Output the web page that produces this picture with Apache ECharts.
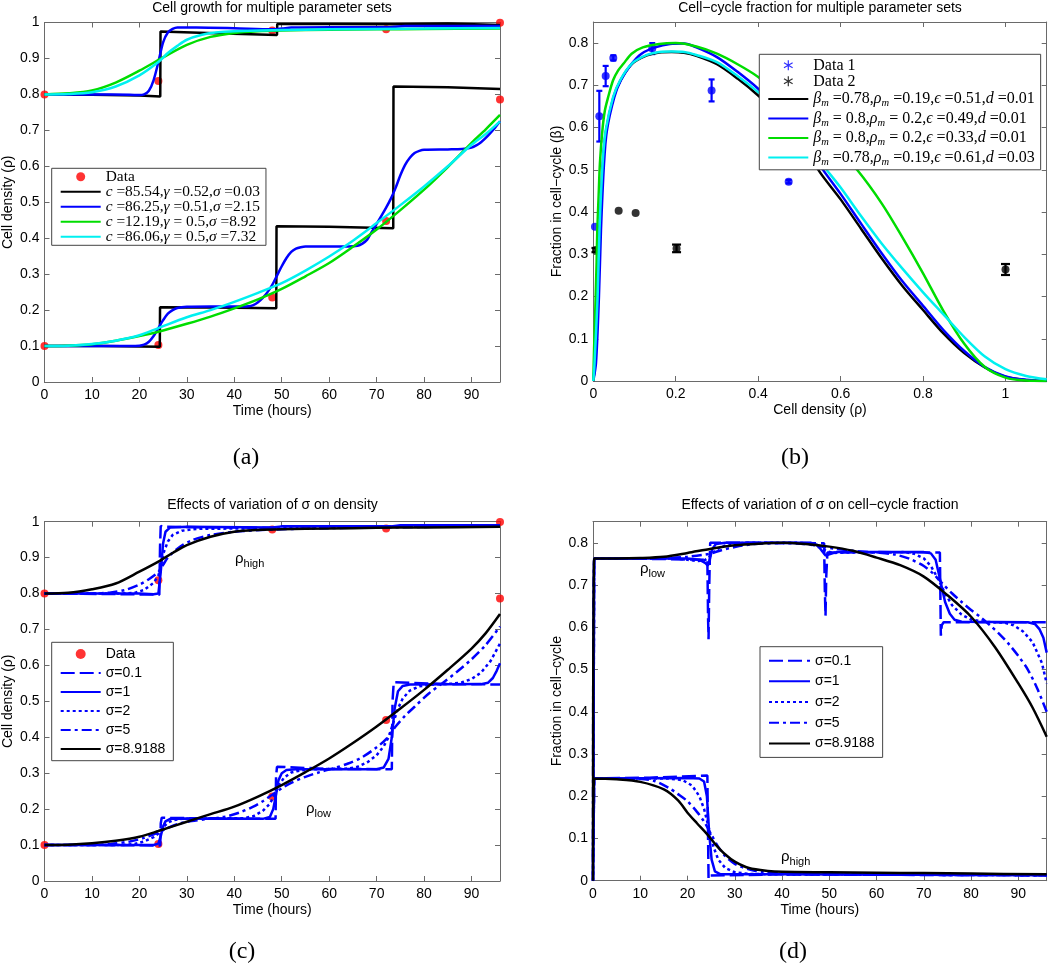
<!DOCTYPE html>
<html><head><meta charset="utf-8">
<script src="https://cdn.jsdelivr.net/npm/echarts@6/dist/echarts.min.js"></script>
<style>html,body{margin:0;padding:0;background:#fff}#c{width:1050px;height:969px}</style>
</head><body><div id="c"></div>
<script>
// ---------------- Panel (a) data ----------------
const aDataPts = [[0,0.8],[24,0.837],[48,0.978],[72,0.981],[96,0.999],[0,0.1],[24,0.103],[48,0.235],[72,0.448],[96,0.786]];
const aBlackHigh = [[0,0.8],[10,0.799],[20,0.797],[24.4,0.794],[24.45,0.975],[36,0.97],[49.0,0.965],[49.05,0.996],[60,0.996],[73.6,0.995],[73.65,0.999],[85,0.997],[96,0.993]];
const aBlackLow = [[0,0.1],[12,0.1],[24.3,0.098],[24.35,0.208],[36,0.207],[48.85,0.205],[48.9,0.433],[60,0.432],[73.5,0.428],[73.55,0.822],[85,0.82],[96,0.815]];
const aBlueHigh = [[0,0.8],[10,0.8],[18,0.799],[20,0.798],[21,0.8],[22,0.81],[23,0.84],[24,0.89],[25,0.945],[26,0.972],[27,0.982],[28,0.986],[32,0.986],[40,0.984],[48,0.981],[50,0.983],[52,0.986],[60,0.987],[72,0.987],[76,0.99],[96,0.99]];
const aBlueLow = [[0,0.1],[10,0.1],[18,0.1],[20,0.101],[21,0.104],[22,0.112],[23,0.128],[24,0.15],[25,0.172],[26,0.19],[27,0.2],[28,0.206],[30,0.209],[35,0.21],[40,0.21],[43,0.211],[44,0.214],[45,0.222],[46,0.234],[47,0.25],[48,0.27],[49,0.296],[50,0.322],[51,0.345],[52,0.362],[53,0.371],[54,0.375],[55,0.377],[60,0.377],[64,0.377],[66,0.379],[67,0.385],[68,0.396],[69,0.418],[70,0.44],[71,0.462],[72,0.485],[73,0.51],[74,0.54],[75,0.575],[76,0.604],[77,0.624],[78,0.637],[79,0.643],[80,0.646],[85,0.647],[88,0.648],[90,0.652],[91,0.658],[92,0.667],[93,0.679],[94,0.693],[95,0.708],[96,0.725]];
const aGreenHigh = [[0,0.8],[5,0.803],[10,0.811],[15,0.833],[20,0.866],[25,0.903],[30,0.938],[35,0.96],[40,0.971],[45,0.976],[50,0.978],[60,0.98],[70,0.981],[80,0.982],[96,0.983]];
const aGreenLow = [[0,0.1],[5,0.101],[10,0.105],[15,0.115],[20,0.128],[24,0.14],[30,0.162],[35,0.182],[40,0.205],[45,0.23],[50,0.259],[55,0.294],[60,0.331],[65,0.376],[70,0.424],[75,0.478],[80,0.535],[85,0.598],[90,0.665],[93,0.703],[96,0.743]];
const aCyanHigh = [[0,0.8],[5,0.801],[10,0.806],[15,0.822],[20,0.853],[24,0.89],[26,0.915],[28,0.935],[30,0.952],[33,0.965],[36,0.972],[40,0.976],[50,0.979],[60,0.981],[80,0.983],[96,0.985]];
const aCyanLow = [[0,0.1],[5,0.101],[10,0.106],[15,0.115],[20,0.13],[24,0.15],[30,0.18],[35,0.2],[40,0.223],[45,0.248],[50,0.275],[55,0.31],[60,0.349],[65,0.393],[70,0.442],[75,0.492],[80,0.544],[85,0.6],[90,0.66],[93,0.69],[96,0.725]];
const aNames = ['c =85.54,γ =0.52,σ =0.03','c =86.25,γ =0.51,σ =2.15','c =12.19,γ = 0.5,σ =8.92','c =86.06,γ = 0.5,σ =7.32'];

// ---------------- Panel (b) data ----------------
const bData1 = [[0.004,0.365],[0.0146,0.627],[0.030,0.722],[0.0485,0.765],[0.143,0.787],[0.287,0.688],[0.474,0.472]];
const bErr1 = [0, 0.06, 0.024, 0.006, 0.013, 0.026, 0.004];
const bData2 = [[0.0065,0.31],[0.0615,0.403],[0.1027,0.398],[0.202,0.314],[1.0,0.264]];
const bErr2 = [0.005, 0, 0, 0.009, 0.013];
const bBlack = [[0,0],[0.004,0.042],[0.011,0.2],[0.0155,0.357],[0.023,0.515],[0.031,0.593],[0.049,0.672],[0.066,0.712],[0.094,0.751],[0.13,0.771],[0.16,0.778],[0.19,0.779],[0.22,0.777],[0.25,0.77],[0.3,0.75],[0.35,0.716],[0.4,0.676],[0.45,0.63],[0.5,0.573],[0.55,0.494],[0.6,0.43],[0.65,0.36],[0.7,0.29],[0.75,0.225],[0.8,0.168],[0.85,0.112],[0.9,0.066],[0.95,0.032],[1.0,0.01],[1.05,0.002],[1.1,0]];
const bBlue = [[0,0],[0.0065,0.042],[0.0137,0.2],[0.0186,0.357],[0.026,0.515],[0.033,0.593],[0.051,0.672],[0.067,0.712],[0.093,0.751],[0.117,0.775],[0.15,0.79],[0.186,0.798],[0.22,0.799],[0.25,0.79],[0.3,0.767],[0.35,0.732],[0.4,0.692],[0.45,0.645],[0.5,0.585],[0.55,0.51],[0.6,0.443],[0.65,0.372],[0.7,0.302],[0.75,0.236],[0.8,0.178],[0.85,0.12],[0.9,0.071],[0.95,0.033],[1.0,0.011],[1.05,0.003],[1.1,0]];
const bGreen = [[0,0],[0.002,0.08],[0.004,0.14],[0.0057,0.2],[0.008,0.28],[0.0097,0.357],[0.013,0.44],[0.016,0.515],[0.022,0.593],[0.028,0.64],[0.036,0.672],[0.048,0.712],[0.06,0.735],[0.073,0.751],[0.093,0.775],[0.12,0.79],[0.16,0.798],[0.2,0.8],[0.25,0.792],[0.3,0.775],[0.35,0.75],[0.4,0.72],[0.45,0.68],[0.5,0.635],[0.55,0.59],[0.6,0.54],[0.64,0.5],[0.7,0.42],[0.75,0.34],[0.8,0.255],[0.85,0.165],[0.9,0.088],[0.95,0.033],[1.0,0.008],[1.05,0.001],[1.1,0]];
const bCyan = [[0,0],[0.003,0.042],[0.0105,0.2],[0.015,0.357],[0.0226,0.515],[0.03,0.593],[0.048,0.672],[0.065,0.712],[0.093,0.751],[0.13,0.772],[0.16,0.779],[0.19,0.78],[0.22,0.779],[0.25,0.772],[0.3,0.755],[0.35,0.722],[0.4,0.684],[0.45,0.64],[0.5,0.59],[0.55,0.52],[0.6,0.458],[0.65,0.39],[0.7,0.325],[0.75,0.266],[0.8,0.21],[0.85,0.157],[0.9,0.104],[0.95,0.058],[1.0,0.028],[1.05,0.012],[1.1,0.004]];
const bNames = ['βm =0.78,ρm =0.19,ϵ =0.51,d =0.01','βm = 0.8,ρm = 0.2,ϵ =0.49,d =0.01','βm = 0.8,ρm = 0.2,ϵ =0.33,d =0.01','βm =0.78,ρm =0.19,ϵ =0.61,d =0.03'];

// ---------------- Panel (c) data ----------------
const cDataPts = [[0,0.8],[24,0.837],[48,0.978],[72,0.981],[96,0.999],[0,0.1],[24,0.103],[48,0.235],[72,0.448],[96,0.786]];
const c01High = [[0,0.8],[12,0.799],[24.2,0.797],[24.35,0.93],[24.5,0.988],[25,0.986],[36,0.984],[48.8,0.983],[49,0.988],[50,0.987],[60,0.987],[73.4,0.986],[73.6,0.99],[85,0.99],[96,0.99]];
const c1High = [[0,0.8],[20,0.8],[23,0.798],[24,0.8],[24.5,0.86],[25,0.94],[25.5,0.972],[26.5,0.984],[30,0.986],[48,0.984],[50,0.987],[73,0.987],[75,0.99],[96,0.99]];
const c2High = [[0,0.8],[16,0.8],[19,0.802],[21,0.81],[23,0.83],[24,0.85],[24.5,0.875],[25,0.91],[26,0.945],[27,0.963],[29,0.975],[32,0.98],[48,0.982],[52,0.985],[96,0.99]];
const c5High = [[0,0.8],[10,0.8],[14,0.803],[17,0.81],[20,0.825],[22,0.84],[24,0.86],[25,0.88],[26,0.9],[28,0.925],[31,0.948],[35,0.963],[40,0.972],[48,0.978],[60,0.982],[96,0.988]];
const c89High = [[0,0.8],[5,0.802],[10,0.812],[15,0.828],[20,0.861],[24,0.889],[27,0.913],[30,0.935],[35,0.958],[40,0.972],[45,0.977],[50,0.979],[60,0.981],[70,0.983],[80,0.984],[96,0.986]];
const c01Low = [[0,0.1],[12,0.1],[24.4,0.099],[24.5,0.16],[24.7,0.176],[25,0.175],[36,0.174],[48.7,0.173],[48.8,0.29],[49,0.318],[49.3,0.314],[60,0.312],[73.2,0.311],[73.35,0.5],[73.6,0.553],[74,0.549],[85,0.548],[96,0.547]];
const c1Low = [[0,0.1],[20,0.1],[23,0.1],[24,0.104],[24.5,0.125],[25,0.152],[25.5,0.166],[26.5,0.173],[30,0.174],[46,0.173],[47.5,0.178],[48.2,0.2],[48.8,0.24],[49.3,0.28],[50,0.3],[51,0.309],[53,0.311],[70,0.311],[71.5,0.316],[72.5,0.34],[73.2,0.4],[73.8,0.48],[74.5,0.528],[75.5,0.543],[77,0.547],[92,0.548],[93.5,0.552],[94.5,0.565],[95.3,0.585],[96,0.606]];
const c2Low = [[0,0.1],[16,0.1],[19,0.103],[21,0.11],[23,0.122],[24,0.132],[25,0.15],[26,0.162],[27,0.169],[29,0.173],[32,0.174],[42,0.175],[44,0.18],[46,0.195],[47.5,0.215],[48.5,0.24],[49.5,0.268],[50.5,0.288],[52,0.302],[54,0.308],[57,0.311],[64,0.313],[66,0.318],[68,0.33],[70,0.35],[71.5,0.375],[72.5,0.4],[73.5,0.44],[74.5,0.48],[75.5,0.508],[77,0.53],[79,0.542],[82,0.547],[86,0.549],[88,0.553],[90,0.562],[92,0.58],[94,0.612],[96,0.661]];
const c5Low = [[0,0.1],[10,0.1],[14,0.103],[18,0.11],[21,0.12],[24,0.135],[26,0.148],[28,0.158],[31,0.167],[34,0.172],[38,0.179],[41,0.19],[44,0.207],[46,0.222],[48,0.24],[50,0.258],[52,0.273],[55,0.29],[58,0.303],[61,0.314],[64,0.327],[67,0.345],[70,0.372],[72,0.395],[74,0.43],[76,0.46],[78,0.485],[81,0.522],[84,0.552],[87,0.583],[90,0.617],[93,0.657],[96,0.708]];
const c89Low = [[0,0.1],[5,0.101],[10,0.105],[15,0.112],[20,0.123],[24,0.139],[30,0.165],[35,0.186],[40,0.207],[45,0.235],[50,0.267],[55,0.303],[60,0.341],[65,0.384],[70,0.43],[75,0.48],[80,0.532],[85,0.588],[90,0.647],[93,0.69],[96,0.743]];

// ---------------- Panel (d) data ----------------
const d01Low = [[0,0],[0.25,0.763],[12,0.762],[24.2,0.76],[24.35,0.62],[24.45,0.572],[24.6,0.7],[24.8,0.8],[36,0.8],[48.9,0.799],[49.05,0.69],[49.2,0.627],[49.35,0.72],[49.6,0.777],[60,0.778],[73.4,0.777],[73.5,0.68],[73.6,0.58],[73.8,0.605],[74.2,0.612],[85,0.612],[96,0.612]];
const d1Low = [[0,0],[0.25,0.763],[20,0.763],[22.5,0.76],[23.8,0.752],[24.3,0.746],[24.7,0.76],[25.2,0.785],[26,0.797],[28,0.8],[46,0.8],[47.5,0.795],[48.5,0.78],[49.2,0.77],[50,0.773],[51.5,0.778],[70,0.778],[71.5,0.775],[72.5,0.76],[73.5,0.71],[74.5,0.66],[75.5,0.632],[76.5,0.618],[78,0.613],[92,0.612],[93.5,0.608],[94.5,0.595],[95.3,0.575],[96,0.54]];
const d2Low = [[0,0],[0.25,0.763],[17,0.763],[20,0.76],[22,0.757],[23.5,0.758],[24.5,0.765],[25.5,0.778],[27,0.79],[29,0.797],[32,0.8],[44,0.8],[46,0.797],[48,0.789],[49.5,0.78],[51,0.776],[53,0.777],[66,0.778],[68,0.774],[70,0.763],[71.5,0.745],[73,0.715],[74.5,0.68],[76,0.652],[78,0.63],[80,0.618],[83,0.613],[87,0.611],[89,0.605],[91,0.59],[93,0.565],[95,0.515],[96,0.467]];
const d5Low = [[0,0],[0.25,0.763],[12,0.763],[16,0.764],[20,0.767],[23,0.771],[25,0.775],[27,0.782],[30,0.79],[34,0.797],[40,0.799],[44,0.798],[48,0.792],[51,0.786],[55,0.781],[60,0.777],[64,0.772],[67,0.762],[70,0.745],[72,0.727],[74,0.703],[76,0.68],[78,0.66],[80,0.641],[82,0.624],[84,0.605],[86,0.584],[88,0.56],[90,0.532],[92,0.5],[94,0.455],[96,0.4]];
const d89Low = [[0,0],[0.25,0.763],[5,0.763],[10,0.764],[15,0.767],[20,0.776],[25,0.786],[30,0.794],[35,0.798],[40,0.8],[45,0.797],[50,0.791],[55,0.781],[60,0.765],[65,0.747],[70,0.72],[75,0.676],[80,0.625],[85,0.554],[90,0.467],[93,0.41],[96,0.341]];
const d01High = [[0,0],[0.25,0.242],[12,0.244],[24.2,0.249],[24.35,0.1],[24.45,0.005],[24.6,0.012],[25,0.015],[40,0.015],[60,0.014],[96,0.013]];
const d1High = [[0,0],[0.25,0.242],[20,0.243],[22.5,0.242],[23.5,0.235],[24.1,0.2],[24.6,0.11],[25.1,0.05],[25.8,0.022],[27,0.015],[40,0.015],[96,0.013]];
const d2High = [[0,0],[0.25,0.242],[16,0.242],[19,0.238],[21,0.225],[22.5,0.2],[23.5,0.17],[24.5,0.125],[25.5,0.08],[26.5,0.05],[28,0.03],[30,0.02],[33,0.016],[40,0.015],[96,0.013]];
const d5High = [[0,0],[0.25,0.242],[10,0.241],[13,0.236],[16,0.22],[18,0.205],[20,0.188],[22,0.163],[23.5,0.14],[25,0.11],[26.5,0.08],[28,0.058],[30,0.04],[33,0.027],[36,0.02],[40,0.017],[50,0.015],[96,0.013]];
const d89High = [[0,0],[0.25,0.242],[5,0.24],[10,0.234],[15,0.216],[18,0.19],[20,0.161],[22,0.136],[24,0.112],[26,0.085],[28,0.062],[30,0.045],[33,0.03],[37,0.023],[40,0.021],[50,0.02],[60,0.019],[70,0.018],[80,0.017],[96,0.015]];
const sigmaNames = ['σ=0.1','σ=1','σ=2','σ=5','σ=8.9188'];

// ---------------- styles ----------------
const SANS = '"Liberation Sans", Arial, sans-serif';
const SERIF = '"Liberation Serif", "DejaVu Serif", serif';
const AX = '#6a6a6a';
const BLUE = '#0000ff', BLACK = '#000000', GREEN = '#00dd00', CYAN = '#00f0f0', RED = '#ff0000';
const DASH = {'σ=0.1':[14,5], 'σ=1':'solid', 'σ=2':[3,3], 'σ=5':[10,4,3,4], 'σ=8.9188':'solid'};
const ASTER = 'path://M-4,0L-4,0.001L-3.999,0ZM4,0L4,0.001L3.999,0ZM-0.12,-1L0.12,-1L0.12,1L-0.12,1ZM-0.926,-0.396L-0.806,-0.604L0.926,0.396L0.806,0.604ZM0.806,-0.604L0.926,-0.396L-0.806,0.604L-0.926,0.396Z';

const grids = [
  {left:44.5, top:22.5, width:455.5, height:359.5},
  {left:593.3, top:22, width:453.4, height:359},
  {left:44.5, top:521.7, width:455.5, height:359.3},
  {left:593, top:521.7, width:453.7, height:359}
];
const ranges = [
  {x:[0,96,10], y:[0,1,0.1], xn:'Time (hours)', yn:'Cell density (ρ)', xMax:false, yMax:true},
  {x:[0,1.1,0.2], y:[0,0.85,0.1], xn:'Cell density (ρ)', yn:'Fraction in cell\u2212cycle (β)', xMax:false, yMax:false},
  {x:[0,96,10], y:[0,1,0.1], xn:'Time (hours)', yn:'Cell density (ρ)', xMax:false, yMax:true},
  {x:[0,96,10], y:[0,0.85,0.1], xn:'Time (hours)', yn:'Fraction in cell\u2212cycle', xMax:false, yMax:false}
];

function mkAxis(g, r, isX, main) {
  const rr = isX ? r.x : r.y;
  const ax = {
    type:'value', gridIndex:g, min:rr[0], max:rr[1], interval:rr[2],
    position: isX ? (main ? 'bottom' : 'top') : (main ? 'left' : 'right'),
    splitLine:{show:false},
    axisLine:{show:true, onZero:false, lineStyle:{color:AX, width:1}},
    axisTick:{show:true, inside:true, length:5, lineStyle:{color:AX, width:1}},
    axisLabel:{show:main, color:'#000', fontFamily:SANS, fontSize:14, margin: isX ? 6 : 5,
      showMaxLabel: isX ? r.xMax : r.yMax, showMinLabel:true},
    silent:true
  };
  if (main) {
    ax.name = isX ? r.xn : r.yn;
    ax.nameLocation = 'middle';
    ax.nameGap = isX ? 22 : 29;
    ax.nameTextStyle = {color:'#000', fontFamily:SANS, fontSize:14};
  }
  return ax;
}
const xAxes = [], yAxes = [];
grids.forEach((gr, g) => {
  xAxes.push(mkAxis(g, ranges[g], true, true));
  xAxes.push(mkAxis(g, ranges[g], true, false));
  yAxes.push(mkAxis(g, ranges[g], false, true));
  yAxes.push(mkAxis(g, ranges[g], false, false));
});

function line(name, data, color, g, type, smooth) {
  const s = {type:'line', name, data, xAxisIndex:2*g, yAxisIndex:2*g, showSymbol:false, symbol:'none',
    lineStyle:{color, width:2.5, type: type || 'solid', cap:'butt'}, itemStyle:{color}, silent:true, animation:false, clip:true,
    connectNulls:false};
  if (smooth) { s.smooth = 0.3; }
  return s;
}
function dots(name, data, color, g) {
  return {type:'scatter', name, data, xAxisIndex:2*g, yAxisIndex:2*g, symbol:'circle', symbolSize:8,
    itemStyle:{color}, silent:true, animation:false};
}
function errBars(pts, errs, color, capW, g) {
  const d = [];
  pts.forEach((p, i) => { if (errs[i] > 0) d.push([p[0], p[1] - errs[i], p[1] + errs[i]]); });
  return {type:'custom', name:'err'+color, xAxisIndex:2*g, yAxisIndex:2*g, data:d, encode:{x:0, y:[1,2]},
    silent:true, animation:false,
    renderItem: (params, api) => {
      const x = api.value(0), a = api.coord([x, api.value(1)]), b = api.coord([x, api.value(2)]);
      const st = {stroke:color, lineWidth:2.2};
      return {type:'group', children:[
        {type:'line', shape:{x1:a[0], y1:a[1], x2:b[0], y2:b[1]}, style:st},
        {type:'line', shape:{x1:a[0]-capW, y1:a[1], x2:a[0]+capW, y2:a[1]}, style:st},
        {type:'line', shape:{x1:b[0]-capW, y1:b[1], x2:b[0]+capW, y2:b[1]}, style:st}
      ]};
    }};
}
function concatBreak(h, l) { return h.concat([[null, null]], l); }

const series = [];
// (a)
series.push(dots('Data', aDataPts, RED, 0));
series.push(line(aNames[0], concatBreak(aBlackHigh, aBlackLow), BLACK, 0));
series.push(line(aNames[1], concatBreak(aBlueHigh, aBlueLow), BLUE, 0, 'solid', true));
series.push(line(aNames[2], concatBreak(aGreenHigh, aGreenLow), GREEN, 0, 'solid', true));
series.push(line(aNames[3], concatBreak(aCyanHigh, aCyanLow), CYAN, 0, 'solid', true));
// (b)
series.push(errBars(bData1, bErr1, BLUE, 3, 1));
series.push(dots('Data 1', bData1, BLUE, 1));
series.push(errBars(bData2, bErr2, BLACK, 4.5, 1));
series.push(dots('Data 2', bData2, BLACK, 1));
series.push(line(bNames[0], bBlack, BLACK, 1, 'solid', true));
series.push(line(bNames[1], bBlue, BLUE, 1, 'solid', true));
series.push(line(bNames[2], bGreen, GREEN, 1, 'solid', true));
series.push(line(bNames[3], bCyan, CYAN, 1, 'solid', true));
// (c)
series.push(dots('Data', cDataPts, RED, 2));
const cH = [c01High, c1High, c2High, c5High, c89High], cL = [c01Low, c1Low, c2Low, c5Low, c89Low];
sigmaNames.forEach((n, i) => series.push(line(n, concatBreak(cH[i], cL[i]), i === 4 ? BLACK : BLUE, 2, DASH[n], i >= 3)));
// (d)
const dH = [d01High, d1High, d2High, d5High, d89High], dL = [d01Low, d1Low, d2Low, d5Low, d89Low];
sigmaNames.forEach((n, i) => series.push(line(n, concatBreak(dL[i], dH[i]), i === 4 ? BLACK : BLUE, 3, DASH[n], i >= 3)));

// rich formatting for serif legends
function richA(name) {
  if (name === 'Data') return '{n|Data}';
  return name.replace(/(c|γ|σ)( ?=)([^,]*)(,?)/g, (m, v, eq, num, comma) => '{i|' + v + '}{n|' + eq + num + comma + '}');
}
function richB(name) {
  if (name.startsWith('Data')) return '{d|' + name + '}';
  const parts = name.split(',');
  return parts.map((p, k) => {
    const sep = k < parts.length - 1 ? ',' : '';
    const m = p.match(/^(β|ρ|ϵ|d)(m?)(.*)$/);
    return '{g|' + m[1] + '}' + (m[2] ? '{s|m}' : '') + '{n|' + m[3] + sep + '}';
  }).join('');
}
const lineItem = n => ({name:n, itemStyle:{opacity:0}});

const legends = [
  {orient:'vertical', left:51.7, top:168.3, itemWidth:40, itemHeight:9, itemGap:0, padding:[1,6,1,8],
   borderColor:'#444', borderWidth:1, backgroundColor:'#fff', selectedMode:false,
   data:['Data'].concat(aNames.map(lineItem)), formatter:richA,
   textStyle:{color:'#000', fontFamily:SERIF, fontSize:15.4, lineHeight:13.3,
     rich:{i:{fontFamily:SERIF, fontSize:15.4, fontStyle:'italic', lineHeight:13.3, color:'#000'},
           n:{fontFamily:SERIF, fontSize:15.4, lineHeight:13.3, color:'#000'}}}},
  {orient:'vertical', left:759.3, top:54.3, itemWidth:40, itemHeight:10, itemGap:0, padding:[3,6,2.5,8],
   borderColor:'#444', borderWidth:1, backgroundColor:'#fff', selectedMode:false,
   data:[{name:'Data 1', icon:ASTER}, {name:'Data 2', icon:ASTER}].concat(bNames.map(lineItem)), formatter:richB,
   textStyle:{color:'#000', fontFamily:SERIF, fontSize:16, lineHeight:19.5,
     rich:{d:{fontFamily:SERIF, fontSize:16, lineHeight:15.7, color:'#000'},
           g:{fontFamily:SERIF, fontSize:16, fontStyle:'italic', lineHeight:19.5, color:'#000'},
           s:{fontFamily:SERIF, fontSize:10.5, fontStyle:'italic', lineHeight:10, verticalAlign:'bottom', color:'#000'},
           n:{fontFamily:SERIF, fontSize:16, lineHeight:19.5, color:'#000'}}}},
  {orient:'vertical', left:51.7, top:642.3, itemWidth:40, itemHeight:10, itemGap:0, padding:[2.2,8,2.2,8],
   borderColor:'#444', borderWidth:1, backgroundColor:'#fff', selectedMode:false,
   data:['Data'].concat(sigmaNames.map(lineItem)),
   textStyle:{color:'#000', fontFamily:SANS, fontSize:14, lineHeight:19}},
  {orient:'vertical', left:760, top:646.7, itemWidth:41, itemHeight:10, itemGap:0, padding:[3.6,8,3.6,8],
   borderColor:'#444', borderWidth:1, backgroundColor:'#fff', selectedMode:false,
   data:sigmaNames.map(lineItem),
   textStyle:{color:'#000', fontFamily:SANS, fontSize:14, lineHeight:20.7}}
];

function txt(x, y, text, font, align) {
  return {type:'text', x, y, silent:true, z:10,
    style:{text, font, fill:'#000', align: align || 'center', verticalAlign:'middle',
      textAlign: align || 'center', textVerticalAlign:'middle'}};
}
function rhoTxt(x, y, sub) {
  return {type:'text', x, y, silent:true, z:10,
    style:{text:'{r|ρ}{s|' + sub + '}', fill:'#000', align:'left', verticalAlign:'middle',
      textAlign:'left', textVerticalAlign:'middle',
      rich:{r:{fontFamily:SANS, fontSize:15, lineHeight:20, fill:'#000', color:'#000'},
            s:{fontFamily:SANS, fontSize:11, lineHeight:11, verticalAlign:'bottom', fill:'#000', color:'#000'}}}};
}
const graphics = [
  txt(272, 8, 'Cell growth for multiple parameter sets', '14px ' + SANS),
  txt(820, 8, 'Cell\u2212cycle fraction for multiple parameter sets', '14px ' + SANS),
  txt(272.5, 505, 'Effects of variation of σ on density', '14px ' + SANS),
  txt(820, 505, 'Effects of variation of σ on cell\u2212cycle fraction', '14px ' + SANS),
  txt(246, 458, '(a)', '24px ' + SERIF),
  txt(795, 458, '(b)', '24px ' + SERIF),
  txt(242, 952, '(c)', '24px ' + SERIF),
  txt(793, 952, '(d)', '24px ' + SERIF),
  rhoTxt(235, 559, 'high'),
  rhoTxt(306, 809, 'low'),
  rhoTxt(640, 569, 'low'),
  rhoTxt(781, 857, 'high')
];

const chart = echarts.init(document.getElementById('c'), null, {renderer:'canvas'});
chart.setOption({
  animation:false,
  backgroundColor:'#fff',
  grid: grids.map(g => Object.assign({containLabel:false, show:false}, g)),
  xAxis: xAxes, yAxis: yAxes,
  legend: legends,
  series,
  graphic: graphics
});
</script></body></html>
